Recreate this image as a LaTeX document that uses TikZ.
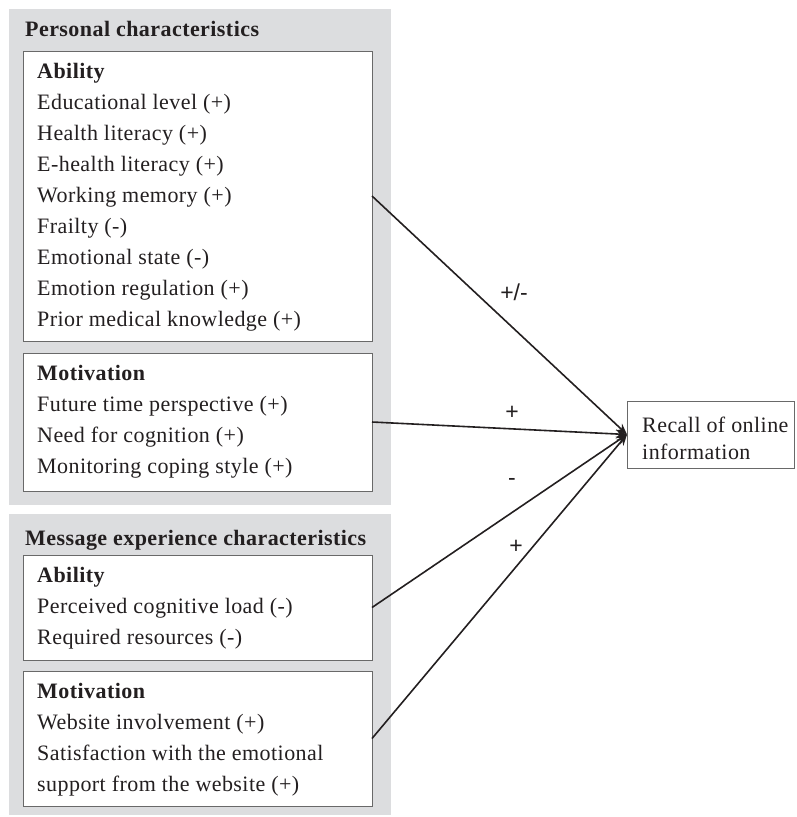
\documentclass[tikz,border=0pt]{standalone}
\usepackage{fontspec}
\setmainfont{Liberation Serif}[LetterSpace=2]
\newfontfamily\labelfont{Liberation Sans}
\usetikzlibrary{arrows.meta}
\definecolor{panelgray}{RGB}{220,221,223}
\definecolor{boxgray}{RGB}{105,105,105}
\definecolor{ink}{RGB}{35,31,32}
\newcommand\mylines[1]{\begin{tabular}[t]{@{}l@{}}#1\end{tabular}}
\begin{document}
\begin{tikzpicture}[x=1pt,y=-1pt,
  panel/.style={fill=panelgray,draw=none,inner sep=0pt,outer sep=0pt,anchor=north west},
  box/.style={draw=boxgray,fill=white,line width=0.9pt,inner sep=0pt,outer sep=0pt,anchor=north west},
  txt/.style={anchor=base west,inner sep=0pt,text=ink,font=\fontsize{22}{31}\selectfont},
  head/.style={txt,font=\fontsize{22}{31}\selectfont\bfseries},
  lab/.style={inner sep=0pt,text=ink,font=\labelfont\fontsize{23}{26}\selectfont},
  conn/.style={draw=ink,line width=1.6pt,-{Stealth[length=11pt,width=9pt]}}]
\useasboundingbox (0,0) rectangle (796,817);
% panels
\node[panel,minimum width=382pt,minimum height=496pt] (p1) at (9,9) {};
\node[panel,minimum width=382pt,minimum height=301pt] (p2) at (9,514) {};
% boxes
\node[box,minimum width=349pt,minimum height=290pt] (ab1) at (23,51) {};
\node[box,minimum width=349pt,minimum height=138pt] (mo1) at (23,353) {};
\node[box,minimum width=349pt,minimum height=105pt] (ab2) at (23,555) {};
\node[box,minimum width=349pt,minimum height=135pt] (mo2) at (23,671) {};
\node[box,minimum width=167pt,minimum height=67pt] (rec) at (627,401) {};
% texts
\node[head] (h1) at (25,36) {Personal characteristics};
\node[txt] (t1) at (37,78) {\mylines{\textbf{Ability}\\
Educational level (+)\\
Health literacy (+)\\
E-health literacy (+)\\
Working memory (+)\\
Frailty (-)\\
Emotional state (-)\\
Emotion regulation (+)\\
Prior medical knowledge (+)}};
\node[txt] (t2) at (37,380) {\mylines{\textbf{Motivation}\\
Future time perspective (+)\\
Need for cognition (+)\\
Monitoring coping style (+)}};
\node[head] (h2) at (25,545) {Message experience characteristics};
\node[txt] (t3) at (37,582) {\mylines{\textbf{Ability}\\
Perceived cognitive load (-)\\
Required resources (-)}};
\node[txt] (t4) at (37,698) {\mylines{\textbf{Motivation}\\
Website involvement (+)\\
Satisfaction with the emotional\\
support from the website (+)}};
\node[txt,font=\fontsize{22}{27}\selectfont] (rt) at (642,432) {\mylines{Recall of online\\information}};
% connectors
\draw[conn] (ab1.east) -- (rec.west);
\draw[conn] (mo1.east) -- (rec.west);
\draw[conn] (ab2.east) -- (rec.west);
\draw[conn] (mo2.east) -- (rec.west);
% labels
\node[lab] (l1) at (514,292) {+/-};
\node[lab] (l2) at (512,413) {+};
\node[lab] (l3) at (512,482) {-};
\node[lab] (l4) at (516,547) {+};
\end{tikzpicture}
\end{document}
